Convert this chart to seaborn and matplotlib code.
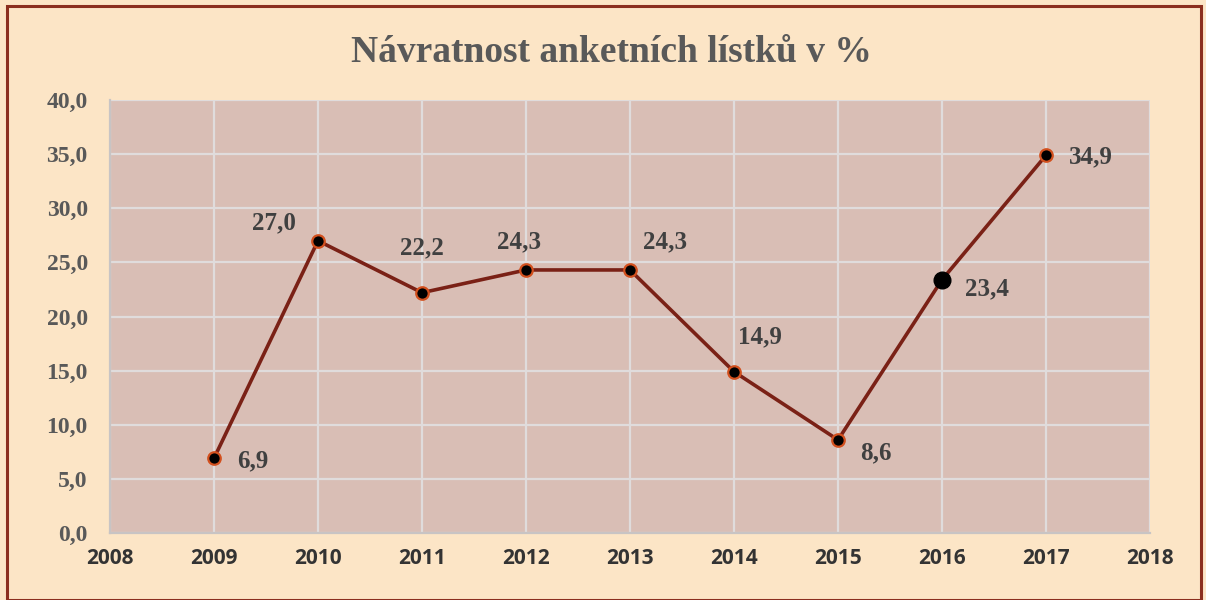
import matplotlib
matplotlib.use("Agg")
import matplotlib.pyplot as plt
import seaborn as sns
import pandas as pd
from matplotlib.patches import Rectangle

years = [2009, 2010, 2011, 2012, 2013, 2014, 2015, 2016, 2017]
values = [6.9, 27.0, 22.2, 24.3, 24.3, 14.9, 8.6, 23.4, 34.9]
title = "Návratnost anketních lístků v %"

# label offsets in points (dx, dy) and horizontal alignment
offsets = [(16.5, -2), (-16, 13), (0, 32), (-5, 20), (9, 20), (3, 25), (16, -9), (16.5, -6.5), (16.5, -1.5)]
aligns = ["left", "right", "center", "center", "left", "left", "left", "left", "left"]

sns.set_theme(style="whitegrid")
plt.rcParams['font.family'] = ['Liberation Serif', 'DejaVu Serif']

fig_bg = "#fce5c6"
ax_bg = "#d9beb5"
line_c = "#7a2116"

fig = plt.figure(figsize=(12.06, 6.0), dpi=100, facecolor=fig_bg)
ax = fig.add_axes([0.0912, 0.1117, 0.8624, 0.7216])
ax.set_facecolor(ax_bg)

df = pd.DataFrame({"year": years, "value": values})
sns.lineplot(data=df, x="year", y="value", ax=ax, color=line_c, linewidth=2.6,
             marker="o", markersize=9, markerfacecolor="black",
             markeredgecolor="#d2501e", markeredgewidth=1.6, zorder=3)
# highlight 2016 point
ax.plot([years[7]], [values[7]], "o", color="black", markersize=12, zorder=4)

ax.set_xlim(2008, 2018)
ax.set_ylim(0, 40)
ax.set_xticks(range(2008, 2019))
ax.set_yticks(range(0, 41, 5))
ax.set_yticklabels([f"{v:.1f}".replace(".", ",") for v in range(0, 41, 5)],
                   fontsize=17, fontweight="bold", color="#595959", family="Liberation Serif")
ax.set_xticklabels([str(y) for y in range(2008, 2019)], fontsize=15, fontweight="bold",
                   color="#333333", family="Open Sans")
ax.tick_params(axis="x", pad=11, length=0)
ax.tick_params(axis="y", pad=16, length=0)
ax.grid(True, color="#e0dcdc", linewidth=1.6)
ax.set_xlabel("")
ax.set_ylabel("")
for s in ["top", "right"]:
    ax.spines[s].set_visible(False)
for s in ["left", "bottom"]:
    ax.spines[s].set_color("#c8c4c4")
    ax.spines[s].set_linewidth(1.6)

for x, y, (dx, dy), ha in zip(years, values, offsets, aligns):
    ax.annotate(f"{y:.1f}".replace(".", ","), (x, y), xytext=(dx, dy), textcoords="offset points",
                ha=ha, va="center", fontsize=18, fontweight="bold", color="#404040",
                family="Liberation Serif")

fig.text(0.507, 0.913, title, ha="center", va="center", fontsize=27, fontweight="bold",
         color="#595959", family="Liberation Serif")

fig.patches.append(Rectangle((0.006, 0.0), 0.99, 0.99, transform=fig.transFigure,
                             fill=False, edgecolor="#8b2e1e", linewidth=2.2))

fig.savefig("out.png", dpi=100, facecolor=fig_bg)
